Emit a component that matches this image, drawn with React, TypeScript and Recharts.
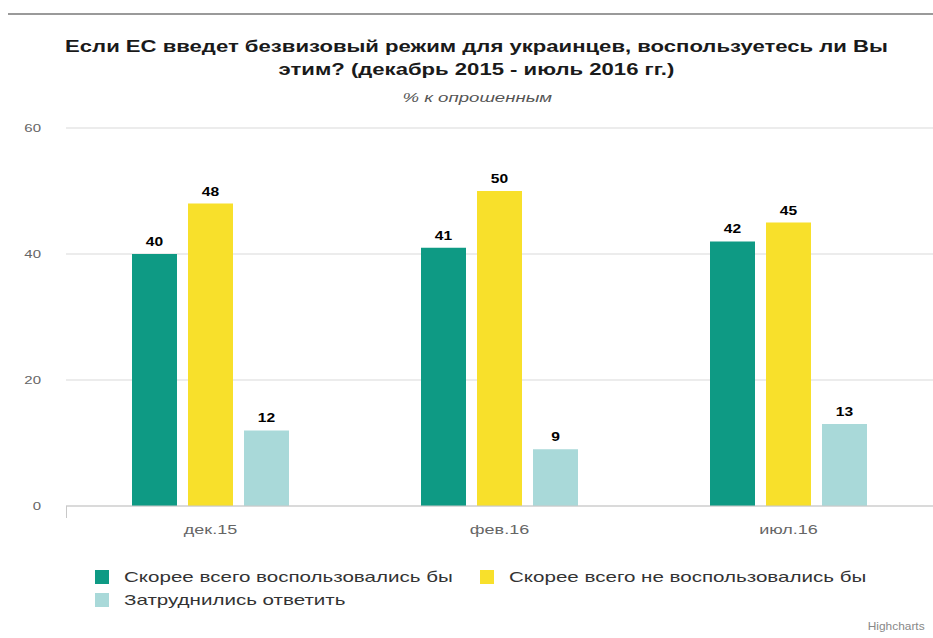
import React from 'react';
import { BarChart, Bar, XAxis, YAxis, CartesianGrid, LabelList } from 'recharts';

const categories = ['дек.15', 'фев.16', 'июл.16'];
const willUse = [40, 41, 42];
const wontUse = [48, 50, 45];
const hardToSay = [12, 9, 13];
const yTicks = [0, 20, 40, 60];

const series = [
  { key: 'willUse', name: 'Скорее всего воспользовались бы', color: '#0e9a84' },
  { key: 'wontUse', name: 'Скорее всего не воспользовались бы', color: '#f8e02b' },
  { key: 'hardToSay', name: 'Затруднились ответить', color: '#a9d9d9' },
];

const data = categories.map((c, i) => ({
  name: c,
  willUse: willUse[i],
  wontUse: wontUse[i],
  hardToSay: hardToSay[i],
}));

const font = '"Liberation Sans", Arial, sans-serif';

// the source picture is stretched sideways, so text gets a horizontal scale
const XTick = (props: any) => (
  <g transform={`translate(${props.x},${props.y})`}>
    <text transform="scale(1.5,1)" textAnchor="middle" dy="0.71em" fill="#666" fontSize={12} fontFamily={font}>
      {props.payload.value}
    </text>
  </g>
);

const YTick = (props: any) => (
  <g transform={`translate(${props.x},${props.y})`}>
    <text transform="scale(1.36,1)" textAnchor="end" dy="0.355em" fill="#666" fontSize={11} fontFamily={font}>
      {props.payload.value}
    </text>
  </g>
);

const BarLabel = (props: any) => {
  const { x, y, width, value } = props;
  return (
    <g transform={`translate(${x + width / 2},${y - 8})`}>
      <text transform="scale(1.3,1)" textAnchor="middle" fill="#000" fontSize={12} fontWeight="bold" fontFamily={font}>
        {value}
      </text>
    </g>
  );
};

export default function App() {
  return (
    <div style={{ position: 'absolute', left: 0, top: 0, width: 933, height: 638, background: '#fff', fontFamily: font, overflow: 'hidden' }}>
      <div style={{ position: 'absolute', left: 8, right: 0, top: 13, height: 2, background: '#9a9a9a' }} />
      <div style={{ position: 'absolute', left: 0, width: 953, top: 35, textAlign: 'center', fontSize: 17, fontWeight: 'bold', color: '#1a1a1a', lineHeight: '23px' }}>
        <div style={{ display: 'inline-block', transform: 'scaleX(1.3)', transformOrigin: 'center' }}>
          Если ЕС введет безвизовый режим для украинцев, воспользуетесь ли Вы<br />
          этим? (декабрь 2015 - июль 2016 гг.)
        </div>
      </div>
      <div style={{ position: 'absolute', left: 0, width: 954, top: 91, textAlign: 'center', fontSize: 12, fontStyle: 'italic', color: '#555' }}>
        <span style={{ display: 'inline-block', transform: 'scaleX(1.55)', transformOrigin: 'center' }}>% к опрошенным</span>
      </div>

      <BarChart
        width={933}
        height={638}
        data={data}
        margin={{ top: 128, right: 0, bottom: 102, left: 0 }}
        barSize={45}
        barGap={11}
      >
        <CartesianGrid vertical={false} stroke="#d9d9d9" />
        <YAxis
          width={66}
          domain={[0, 60]}
          ticks={yTicks}
          axisLine={false}
          tickLine={false}
          tickSize={0}
          tickMargin={25}
          tick={YTick}
        />
        <XAxis
          dataKey="name"
          height={30}
          stroke="#c8c8c8"
          tickLine={false}
          tickSize={0}
          tickMargin={19}
          tick={XTick}
        />
        {series.map((s) => (
          <Bar key={s.key} dataKey={s.key} name={s.name} fill={s.color} isAnimationActive={false}>
            <LabelList dataKey={s.key} content={BarLabel} />
          </Bar>
        ))}
      </BarChart>

      <div style={{ position: 'absolute', left: 66, top: 506, width: 1, height: 12, background: '#c8c8c8' }} />

      <div style={{ position: 'absolute', left: 95, top: 569, width: 800, display: 'flex', flexWrap: 'wrap', rowGap: 7 }}>
        {series.map((s) => (
          <div key={s.key} style={{ width: 385, display: 'flex', alignItems: 'center', fontSize: 15, color: '#333', lineHeight: '16px' }}>
            <span style={{ display: 'inline-block', width: 14, height: 14, background: s.color, marginRight: 15 }} />
            <span style={{ display: 'inline-block', transform: 'scaleX(1.37)', transformOrigin: 'left center', whiteSpace: 'nowrap' }}>{s.name}</span>
          </div>
        ))}
      </div>

      <div style={{ position: 'absolute', right: 8, top: 620, fontSize: 11, color: '#888' }}>
        <span style={{ display: 'inline-block', transform: 'scaleX(1.08)', transformOrigin: 'right center' }}>Highcharts</span>
      </div>
    </div>
  );
}
